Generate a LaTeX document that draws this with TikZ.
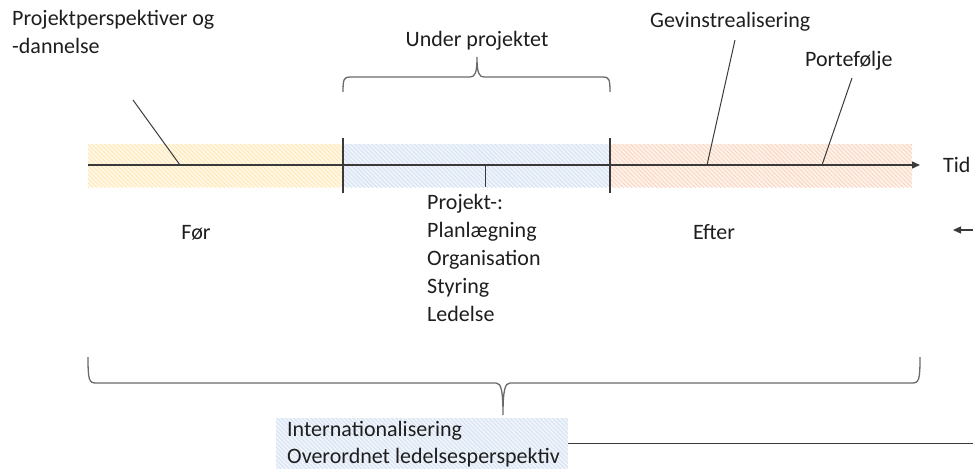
\documentclass[tikz,border=0pt]{standalone}
\usepackage{fontspec}
\setmainfont{Carlito}
\usetikzlibrary{patterns.meta,arrows.meta}
\definecolor{ybg}{HTML}{FFF8E6}
\definecolor{yst}{HTML}{FFE8B6}
\definecolor{bbg}{HTML}{F0F4FB}
\definecolor{bst}{HTML}{D5E2F3}
\definecolor{obg}{HTML}{FEF2EA}
\definecolor{ost}{HTML}{FAD6C2}
\definecolor{txt}{HTML}{1E1E1E}
\definecolor{ln}{HTML}{3A3A3A}
\definecolor{br}{HTML}{6A6A6A}
\begin{document}
\begin{tikzpicture}[x=1pt,y=-1pt,
  lbl/.style={inner sep=0pt,font=\fontsize{22}{28}\selectfont,text=txt,align=left},
  leader/.style={draw=ln,line width=1pt},
  brace/.style={draw=br,line width=1.3pt},
  stripes/.style={pattern={Lines[angle=-45,distance=3pt,line width=0.9pt]},pattern color=#1},
  tip/.style={-{Triangle[length=8pt,width=7pt]}}]
\useasboundingbox (0,0) rectangle (973,468);
\begin{scope}
\clip (0,0) rectangle (973,468);
% bands
\fill[ybg] (88,144) rectangle (343,187);
\fill[stripes=yst] (88,144) rectangle (343,187);
\fill[bbg] (343,144) rectangle (610,187);
\fill[stripes=bst] (343,144) rectangle (610,187);
\fill[obg] (610,144) rectangle (912,187);
\fill[stripes=ost] (610,144) rectangle (912,187);
% bottom box
\fill[bbg] (276,418) rectangle (568,472);
\fill[stripes=bst] (276,418) rectangle (568,472);
\node (ibox) [inner sep=0pt,minimum width=292pt,minimum height=50pt,anchor=north west] at (276,418) {};
% coordinates
\coordinate (ax0) at (88,165);
\coordinate (ax1) at (920,165);
\coordinate (rightedge) at (973,0);
\coordinate (v1t) at (343,138); \coordinate (v1b) at (343,193);
\coordinate (v2t) at (610,138); \coordinate (v2b) at (610,193);
\coordinate (tk0) at (485,165); \coordinate (tk1) at (485,187);
\coordinate (l1a) at (133,100); \coordinate (l1b) at (180,165);
\coordinate (l2a) at (735,40); \coordinate (l2b) at (707,165);
\coordinate (l3a) at (852,78); \coordinate (l3b) at (822,165);
\coordinate (ra0) at (973,230); \coordinate (ra1) at (953,230);
% axis
\draw[leader,line width=1.3pt,tip] (ax0) -- (ax1);
\draw[leader,line width=1.3pt] (v1t) -- (v1b);
\draw[leader,line width=1.3pt] (v2t) -- (v2b);
\draw[leader] (tk0) -- (tk1);
\draw[leader] (l1a) -- (l1b);
\draw[leader] (l2a) -- (l2b);
\draw[leader] (l3a) -- (l3b);
\draw[leader,line width=1.3pt,tip] (ra0) -- (ra1);
\draw[leader,line width=1.3pt] (ibox.east) -- (ibox.east -| rightedge);
% braces
\draw[brace] (343,92) .. controls (343,79) and (344,77) .. (350,77) -- (470,77)
  .. controls (475,77) and (477,73) .. (477,57)
  .. controls (477,73) and (479,77) .. (484,77) -- (603,77)
  .. controls (609,77) and (610,79) .. (610,92);
\draw[brace] (88,357) .. controls (88,380) and (89,383) .. (96,383) -- (496,383)
  .. controls (501,383) and (503,390) .. (503,415)
  .. controls (503,390) and (505,383) .. (510,383) -- (912,383)
  .. controls (919,383) and (920,380) .. (920,357);
% labels (base anchor of a multi-line node = baseline of its last line)
\node (lpp) [lbl,anchor=base west] at (12,54) {Projektperspektiver og\\-dannelse};
\node (lup) [lbl,anchor=base] at (477,47) {Under projektet};
\node (lgev) [lbl,anchor=base west] at (650,28) {Gevinstrealisering};
\node (lport) [lbl,anchor=base west] at (805,67) {Portefølje};
\node (ltid) [lbl,anchor=base west] at (943,172) {Tid};
\node (lfor) [lbl,anchor=base] at (196,239) {Før};
\node (lefter) [lbl,anchor=base] at (714,239) {Efter};
\node (lproj) [lbl,anchor=base west] at (427,321) {Projekt-:\\Planlægning\\Organisation\\Styring\\Ledelse};
\node (lint) [lbl,anchor=base west,font=\fontsize{22}{27}\selectfont] at (287,463) {Internationalisering\\Overordnet ledelsesperspektiv};
\end{scope}
\end{tikzpicture}
\end{document}
